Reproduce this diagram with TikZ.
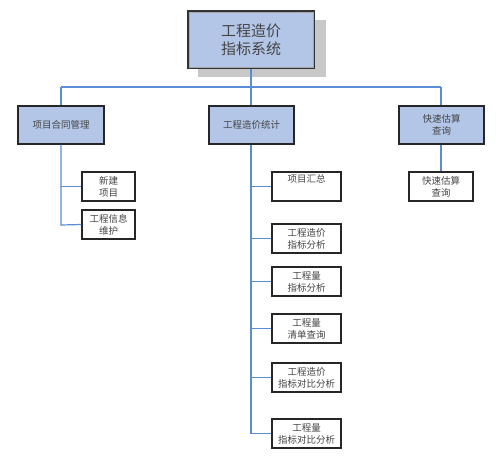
\documentclass[tikz,border=0pt]{standalone}
\usepackage{fontspec}
\newfontfamily\cjk{Noto Sans CJK SC}
\definecolor{boxfill}{HTML}{B4C6E7}
\definecolor{linkblue}{HTML}{5B8CD6}
\definecolor{txt}{HTML}{444444}
\definecolor{shadowgray}{HTML}{C8C8C8}
\tikzset{
  lvltwo/.style={draw=black!85, line width=1.1pt, fill=boxfill, inner sep=0pt, font=\cjk\fontsize{9.5}{11.5}\selectfont, text=txt, align=center},
  leaf/.style={draw=black!85, line width=1.1pt, fill=white, inner sep=0pt, font=\cjk\fontsize{9.5}{12}\selectfont, text=txt, align=center},
  link/.style={draw=linkblue, line width=1.2pt}
}
\begin{document}
\begin{tikzpicture}[x=1pt,y=-1pt]
\useasboundingbox (0,0) rectangle (501,460);
% shadow of root
\fill[shadowgray] (198,20) rectangle (326,77);
% root
\node[draw=black!80, line width=1.6pt, fill=boxfill, minimum width=126pt, minimum height=57pt, inner sep=0pt, font=\cjk\fontsize{15}{18}\selectfont, text=txt, align=center] (root) at (251,39.5) {工程造价\\指标系统};
\draw[gray!70, line width=0.5pt] ([xshift=2pt,yshift=2pt]root.south west) rectangle ([xshift=-2pt,yshift=-2pt]root.north east);
% level 2
\node[lvltwo, minimum width=86pt, minimum height=38pt] (a) at (61,125) {项目合同管理};
\node[lvltwo, minimum width=85pt, minimum height=38pt] (b) at (251.5,125) {工程造价统计};
\node[lvltwo, minimum width=85pt, minimum height=38pt] (c) at (441.5,125) {快速估算\\查询};
% junction coordinates
\coordinate (j) at (251,87);
\coordinate (ja) at (61,87);
\coordinate (jc) at (441,87);
\draw[link] (root.south) -- (j);
\draw[link] (ja) -- (jc);
\draw[link] (ja) -- (ja |- a.north);
\draw[link] (j) -- (j |- b.north);
\draw[link] (jc) -- (jc |- c.north);
% left leaves
\node[leaf, minimum width=53pt, minimum height=29pt] (a1) at (108.5,186.5) {新建\\项目};
\node[leaf, minimum width=53pt, minimum height=29pt] (a2) at (108.5,224.5) {工程信息\\维护};
\coordinate (ae) at (61,225);
\draw[link] (a.south -| ae) -- (ae) -- (a2.west);
\draw[link] (a1.west) -- (a1.west -| ae);
% right leaf
\node[leaf, minimum width=64pt, minimum height=29pt] (c1) at (441,186.5) {快速估算\\查询};
\draw[link] (c.south -| c1.north) -- (c1.north);
% middle leaves
\node[leaf, minimum width=69pt, minimum height=29pt, text depth=15pt] (b1) at (306.5,186.5) {项目汇总};
\node[leaf, minimum width=69pt, minimum height=29pt] (b2) at (306.5,238.5) {工程造价\\指标分析};
\node[leaf, minimum width=69pt, minimum height=29pt] (b3) at (306.5,281.5) {工程量\\指标分析};
\node[leaf, minimum width=69pt, minimum height=29pt] (b4) at (306.5,328.5) {工程量\\清单查询};
\node[leaf, minimum width=69pt, minimum height=29pt] (b5) at (306.5,377.5) {工程造价\\指标对比分析};
\node[leaf, minimum width=69pt, minimum height=29pt] (b6) at (306.5,433.5) {工程量\\指标对比分析};
\coordinate (be) at (251,433.5);
\draw[link] (b.south -| be) -- (be) -- (b6.west);
\foreach \n in {b1,b2,b3,b4,b5} \draw[link] (\n.west) -- (\n.west -| be);
\end{tikzpicture}
\end{document}
